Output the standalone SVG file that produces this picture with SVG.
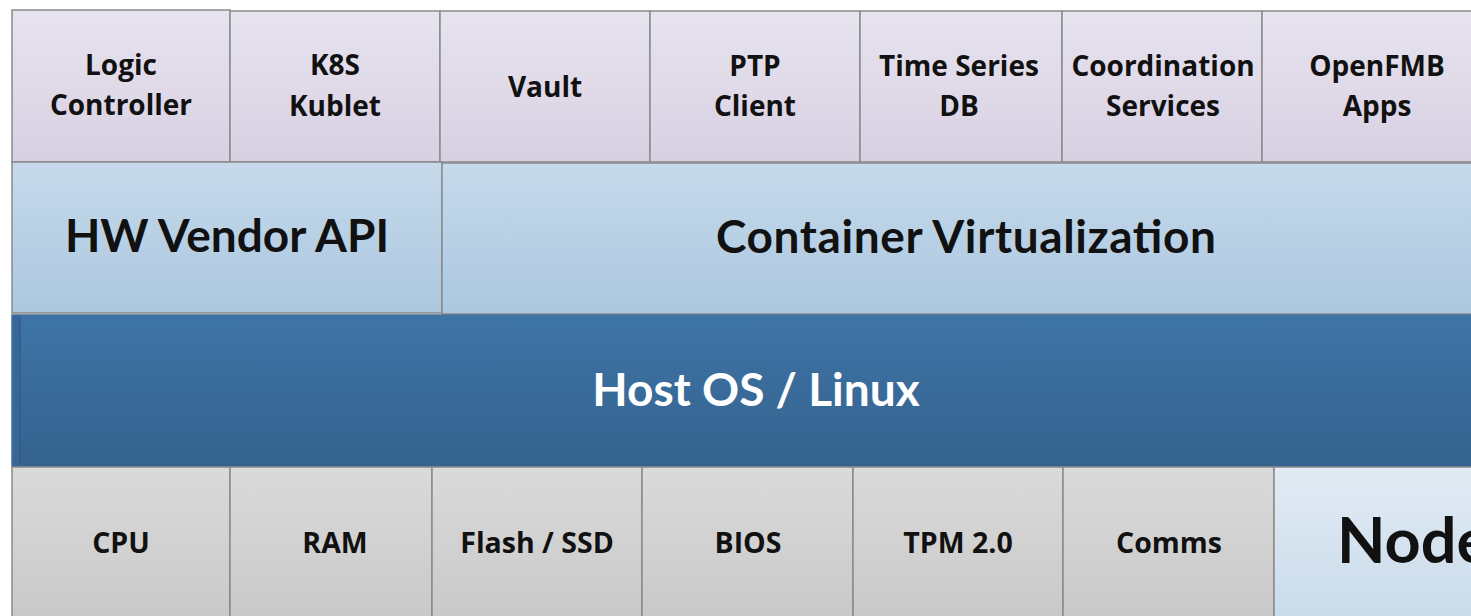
<svg xmlns="http://www.w3.org/2000/svg" width="1471" height="616" viewBox="0 0 1471 616">
  <defs>
    <linearGradient id="gApp" x1="0" y1="0" x2="0" y2="1">
      <stop offset="0" stop-color="#e7e3ef"/>
      <stop offset="1" stop-color="#d8d0e2"/>
    </linearGradient>
    <linearGradient id="gVirt" x1="0" y1="0" x2="0" y2="1">
      <stop offset="0" stop-color="#c6daeb"/>
      <stop offset="1" stop-color="#abc7df"/>
    </linearGradient>
    <linearGradient id="gOs" x1="0" y1="0" x2="0" y2="1">
      <stop offset="0" stop-color="#3e74a6"/>
      <stop offset="1" stop-color="#34628e"/>
    </linearGradient>
    <linearGradient id="gHw" x1="0" y1="0" x2="0" y2="1">
      <stop offset="0" stop-color="#dadada"/>
      <stop offset="1" stop-color="#c8c8c8"/>
    </linearGradient>
    <linearGradient id="gNode" x1="0" y1="0" x2="0" y2="1">
      <stop offset="0" stop-color="#e2ebf4"/>
      <stop offset="1" stop-color="#c8daea"/>
    </linearGradient>
  </defs>
  <style>
    .box { stroke: #8a8a8a; stroke-width: 1.5; }
    .app { fill: url(#gApp); }
    .virt { fill: url(#gVirt); }
    .os { fill: url(#gOs); stroke: #4a6f92; }
    .hw { fill: url(#gHw); }
    .node { fill: url(#gNode); }
    text { font-family: Lato, "Open Sans", "Liberation Sans", sans-serif; font-weight: bold; text-anchor: middle; fill: #111; }
    .s { font-family: "Open Sans", Lato, "Liberation Sans", sans-serif; font-size: 28px; }
    .m { font-family: "Open Sans", Lato, "Liberation Sans", sans-serif; font-size: 28.5px; }
    .l { font-size: 46px; }
    .xl { font-size: 63px; }
    .w { fill: #ffffff; }
  </style>

  <rect width="1471" height="616" fill="#ffffff"/>

  <!-- application containers -->
  <g id="logic-controller">
    <rect class="box app" x="12" y="10" width="218" height="152"/>
    <text class="s" x="121" y="75">Logic</text>
    <text class="s" x="121" y="115">Controller</text>
  </g>
  <g id="k8s-kublet">
    <rect class="box app" x="230" y="11" width="210" height="151"/>
    <text class="s" x="335" y="75">K8S</text>
    <text class="s" x="335" y="116">Kublet</text>
  </g>
  <g id="vault">
    <rect class="box app" x="440" y="11" width="210" height="151"/>
    <text class="s" x="545" y="97">Vault</text>
  </g>
  <g id="ptp-client">
    <rect class="box app" x="650" y="11" width="210" height="151"/>
    <text class="s" x="755" y="76">PTP</text>
    <text class="s" x="755" y="116">Client</text>
  </g>
  <g id="time-series-db">
    <rect class="box app" x="860" y="11" width="202" height="151"/>
    <text class="s" x="959" y="76">Time Series</text>
    <text class="s" x="959" y="116">DB</text>
  </g>
  <g id="coordination-services">
    <rect class="box app" x="1062" y="11" width="200" height="151"/>
    <text class="s" x="1163" y="76">Coordination</text>
    <text class="s" x="1163" y="116">Services</text>
  </g>
  <g id="openfmb-apps">
    <rect class="box app" x="1262" y="11" width="230" height="151"/>
    <text class="s" x="1377" y="76">OpenFMB</text>
    <text class="s" x="1377" y="116">Apps</text>
  </g>

  <!-- middleware layer -->
  <g id="hw-vendor-api">
    <rect class="box virt" x="12" y="162" width="430" height="151"/>
    <text class="l" x="227" y="252">HW Vendor API</text>
  </g>
  <g id="container-virtualization">
    <rect class="box virt" x="442" y="163" width="1050" height="151"/>
    <text class="l" x="966" y="253" textLength="500" lengthAdjust="spacing">Container Virtualization</text>
  </g>

  <!-- operating system -->
  <g id="host-os">
    <rect class="box os" x="12" y="315" width="1480" height="152"/>
    <rect x="12.75" y="315.75" width="7" height="150.5" fill="#37679a"/>
    <line x1="20" y1="316" x2="20" y2="466" stroke="#2f5780" stroke-width="1"/>
    <text class="l w" x="756" y="406">Host OS / Linux</text>
  </g>

  <!-- hardware -->
  <g id="cpu">
    <rect class="box hw" x="12" y="467" width="218" height="160"/>
    <text class="m" x="121" y="553">CPU</text>
  </g>
  <g id="ram">
    <rect class="box hw" x="230" y="467" width="202" height="160"/>
    <text class="m" x="335" y="553">RAM</text>
  </g>
  <g id="flash-ssd">
    <rect class="box hw" x="432" y="467" width="210" height="160"/>
    <text class="m" x="537" y="553">Flash / SSD</text>
  </g>
  <g id="bios">
    <rect class="box hw" x="642" y="467" width="211" height="160"/>
    <text class="m" x="748" y="553">BIOS</text>
  </g>
  <g id="tpm">
    <rect class="box hw" x="853" y="467" width="210" height="160"/>
    <text class="m" x="958" y="553">TPM 2.0</text>
  </g>
  <g id="comms">
    <rect class="box hw" x="1063" y="467" width="211" height="160"/>
    <text class="m" x="1169" y="553">Comms</text>
  </g>
  <g id="node">
    <rect class="box node" x="1274" y="467" width="230" height="160"/>
    <text class="xl" x="1337" y="563" style="text-anchor:start">Node</text>
  </g>

  <g id="connectors"/>
</svg>
